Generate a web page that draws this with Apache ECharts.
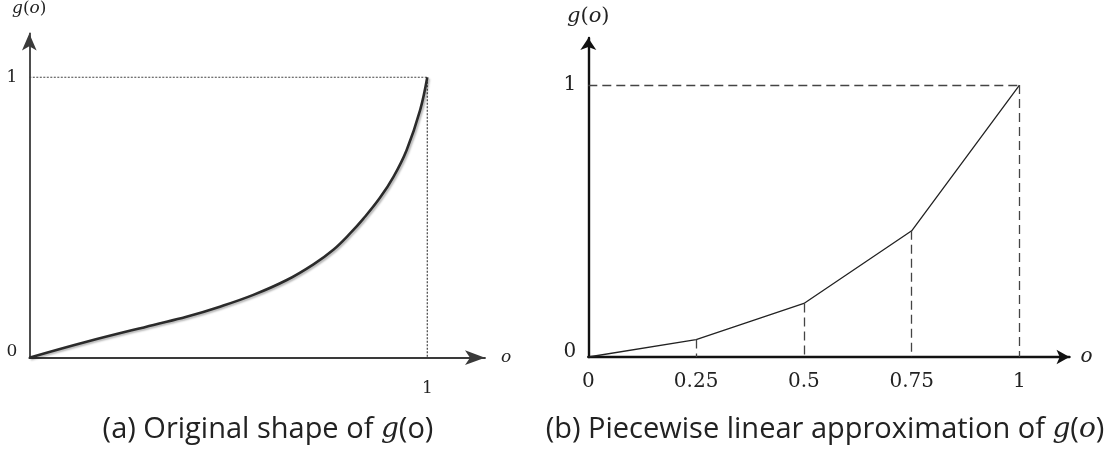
<!DOCTYPE html>
<html>
<head>
<meta charset="utf-8">
<script src="https://cdn.jsdelivr.net/npm/echarts@6/dist/echarts.min.js"></script>
<style>
html,body{margin:0;padding:0;background:#fff;}
#chart{width:1115px;height:453px;}
</style>
</head>
<body>
<div id="chart"></div>
<script>
// (a) original shape of g(o)
const leftX = [0, 0.144, 0.312, 0.395, 0.479, 0.563, 0.647, 0.714, 0.764, 0.806, 0.839, 0.881, 0.915, 0.948, 0.982, 1.0];
const leftY = [0, 0.057, 0.117, 0.146, 0.182, 0.224, 0.277, 0.333, 0.385, 0.443, 0.495, 0.57, 0.645, 0.74, 0.883, 1.0];
const leftXTicks = [1];
const leftYTicks = [0, 1];
const leftGuide = [[0, 1], [1, 1], [1, 0]];

// (b) piecewise linear approximation
const rightX = [0, 0.25, 0.5, 0.75, 1];
const rightY = [0, 0.064, 0.197, 0.464, 1];
const rightXTicks = [0, 0.25, 0.5, 0.75, 1];
const rightYTicks = [0, 1];

const captionA = '(a) Original shape of ';
const captionB = '(b) Piecewise linear approximation of ';

const serif = 'DejaVu Serif';
const sans = 'Open Sans';

function nameRich(size) {
  return {
    i: {fontFamily: serif, fontStyle: 'italic', fontSize: size, color: '#222'},
    p: {fontFamily: serif, fontSize: size, color: '#222'}
  };
}
function labelFmt(v) {
  return v === 0 ? '{z|' + v + '}' : '{n|' + v + '}';
}

const rightGuides = [];
rightX.forEach((x, i) => {
  if (x > 0) rightGuides.push([{coord: [x, rightY[i]]}, {coord: [x, 0]}]);
});
rightGuides.push([{coord: [0, 1]}, {coord: [1, 1]}]);

const capStyle = {
  fontFamily: sans, fontSize: 29, fontWeight: 'normal', color: '#222',
  rich: {
    g: {fontFamily: serif, fontStyle: 'italic', fontSize: 28, color: '#222'},
    t: {fontFamily: sans, fontSize: 29, color: '#222'}
  }
};

const chart = echarts.init(document.getElementById('chart'), null, {renderer: 'canvas'});
chart.setOption({
  backgroundColor: '#fff',
  animation: false,
  title: [
    {
      text: captionA + '{g|g}{t|(o)}',
      left: 268, top: 415, textAlign: 'center', padding: 0,
      textStyle: capStyle
    },
    {
      text: captionB + '{g|g}{t|(}{g|o}{t|)}',
      left: 825, top: 415, textAlign: 'center', padding: 0,
      textStyle: capStyle
    }
  ],
  grid: [
    {left: 29.3, top: 33.5, width: 455.7, height: 324.2},
    {left: 588.3, top: 38, width: 481.2, height: 319}
  ],
  xAxis: [
    {
      type: 'value', gridIndex: 0, min: 0, max: 1.145,
      name: 'o', nameLocation: 'end', nameGap: 16,
      nameTextStyle: {fontFamily: serif, fontStyle: 'italic', fontSize: 17, color: '#222', verticalAlign: 'middle'},
      axisLine: {show: true, symbol: ['none', 'arrow'], symbolSize: [11, 20], lineStyle: {color: '#3a3a3a', width: 1.8}},
      axisTick: {show: false},
      splitLine: {show: false},
      axisLabel: {customValues: leftXTicks, margin: 22, fontFamily: serif, fontSize: 17, color: '#222'}
    },
    {
      type: 'value', gridIndex: 1, min: 0, max: 1.116,
      name: 'o', nameLocation: 'end', nameGap: 11,
      nameTextStyle: {fontFamily: serif, fontStyle: 'italic', fontSize: 20, color: '#222', verticalAlign: 'middle'},
      axisLine: {show: true, symbol: ['none', 'arrow'], symbolSize: [11, 13], lineStyle: {color: '#111', width: 2.4}},
      axisTick: {show: false},
      splitLine: {show: false},
      axisLabel: {customValues: rightXTicks, margin: 15, fontFamily: serif, fontSize: 20, color: '#222'}
    }
  ],
  yAxis: [
    {
      type: 'value', gridIndex: 0, min: 0, max: 1.156,
      name: '{i|g}{p|(}{i|o}{p|)}', nameLocation: 'end', nameGap: 16,
      nameTextStyle: {rich: nameRich(17), align: 'center'},
      axisLine: {show: true, symbol: ['none', 'arrow'], symbolSize: [11, 17], lineStyle: {color: '#3a3a3a', width: 1.8}},
      axisTick: {show: false},
      splitLine: {show: false},
      axisLabel: {
        customValues: leftYTicks, margin: 12, formatter: labelFmt,
        rich: {
          z: {fontFamily: serif, fontSize: 17, color: '#222', padding: [0, 0, 12, 0]},
          n: {fontFamily: serif, fontSize: 17, color: '#222'}
        }
      }
    },
    {
      type: 'value', gridIndex: 1, min: 0, max: 1.173,
      name: '{i|g}{p|(}{i|o}{p|)}', nameLocation: 'end', nameGap: 11,
      nameTextStyle: {rich: nameRich(21), align: 'center'},
      axisLine: {show: true, symbol: ['none', 'arrow'], symbolSize: [12, 12], lineStyle: {color: '#111', width: 2.4}},
      axisTick: {show: false},
      splitLine: {show: false},
      axisLabel: {
        customValues: rightYTicks, margin: 12, formatter: labelFmt,
        rich: {
          z: {fontFamily: serif, fontSize: 20, color: '#222', padding: [0, 0, 10, 0]},
          n: {fontFamily: serif, fontSize: 20, color: '#222'}
        }
      }
    }
  ],
  series: [
    {
      type: 'line', xAxisIndex: 0, yAxisIndex: 0, symbol: 'none', silent: true,
      data: leftGuide,
      lineStyle: {color: '#444', width: 1.2, type: [2, 1.5]},
      z: 1
    },
    {
      type: 'line', xAxisIndex: 0, yAxisIndex: 0, symbol: 'none', silent: true,
      smooth: 0.4, clip: false,
      data: leftX.map((x, i) => [x, leftY[i]]),
      lineStyle: {color: '#2b2b2b', width: 2.6, shadowColor: 'rgba(0,0,0,0.3)', shadowBlur: 2, shadowOffsetX: 1.5, shadowOffsetY: 1.5},
      z: 3
    },
    {
      type: 'line', xAxisIndex: 1, yAxisIndex: 1, symbol: 'none', silent: true,
      data: rightX.map((x, i) => [x, rightY[i]]),
      lineStyle: {color: '#222', width: 1.3},
      markLine: {
        silent: true, symbol: ['none', 'none'], label: {show: false},
        lineStyle: {color: '#444', width: 1.3, type: [9, 5]},
        data: rightGuides
      },
      z: 3
    }
  ]
});
</script>
</body>
</html>
